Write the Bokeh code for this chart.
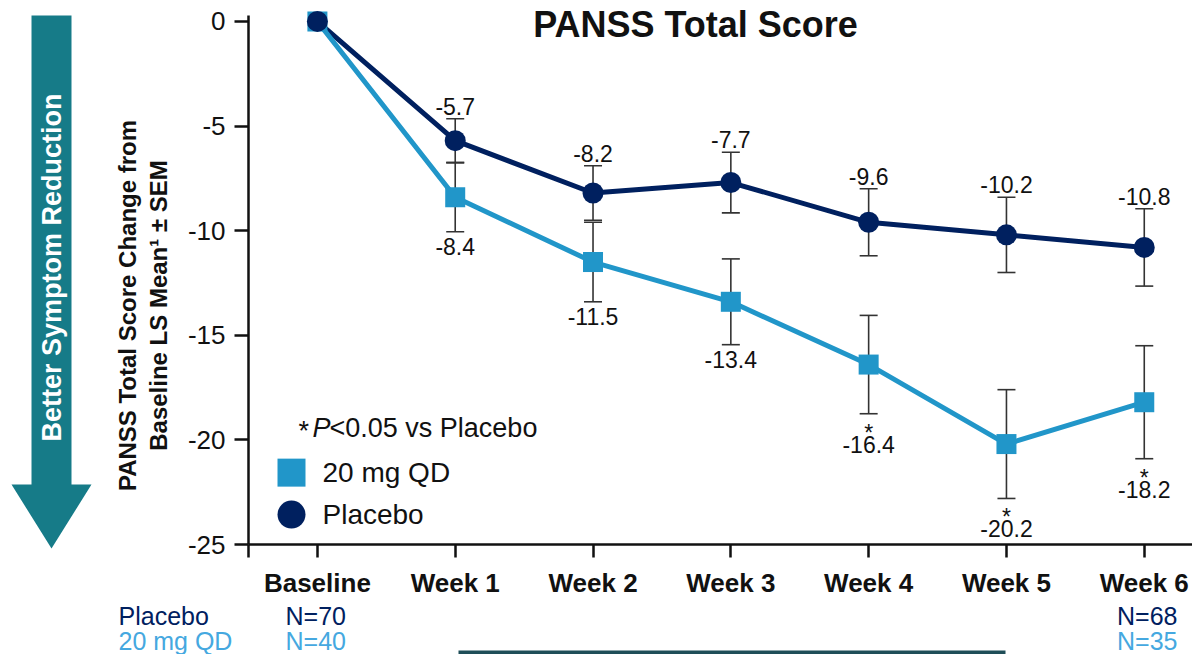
import math

from bokeh.core.properties import value
from bokeh.embed import file_html
from bokeh.layouts import column, row
from bokeh.models import (ColumnDataSource, CustomJSTickFormatter, FixedTicker, Range1d,
                          TeeHead, Whisker)
from bokeh.plotting import figure
from bokeh.resources import INLINE

# ---- data -------------------------------------------------------------
visits = ["Baseline", "Week 1", "Week 2", "Week 3", "Week 4", "Week 5", "Week 6"]
placebo_mean = [0.0, -5.7, -8.2, -7.7, -9.6, -10.2, -10.8]
placebo_sem = [0.0, 1.05, 1.3, 1.45, 1.6, 1.8, 1.85]
qd20_mean = [0.0, -8.4, -11.5, -13.4, -16.4, -20.2, -18.2]
qd20_sem = [0.0, 1.65, 1.9, 2.05, 2.35, 2.6, 2.7]
qd20_significant = [False, False, False, False, True, True, True]
placebo_n = ["N=70", "N=68"]
qd20_n = ["N=40", "N=35"]
y_ticks = [0, -5, -10, -15, -20, -25]

# ---- styling ----------------------------------------------------------
NAVY = "#00205F"
BLUE = "#2196C9"
BLUE_TEXT = "#45A8E0"
TEAL = "#167B88"
INK = "#111111"
FONT = "Liberation Sans"

W, H = 1192, 654
SIDE_W = 180          # strip with the arrow and the y-axis title
TOP_H = 600           # height of the upper row
FOOT_H = H - TOP_H    # strip with the sample sizes
LEFT, BOTTOM = 248, 55
X_START, X_END = -0.5, 6.35
Y_START, Y_END = -25.0, 1.0


def cx(px):
    """page pixel column -> x data value of the chart"""
    return X_START + (px - LEFT) * (X_END - X_START) / (W - LEFT)


def cy(py):
    """page pixel row -> y data value of the chart"""
    return Y_END - py * (Y_END - Y_START) / (TOP_H - BOTTOM)


def no_frame_alignment(f):
    # keep each strip's drawing area independent of its neighbours
    if "frame_align" in f.properties():
        f.frame_align = False


def blank(width, height):
    f = figure(width=width, height=height, x_range=Range1d(0, width), y_range=Range1d(0, height),
               output_backend="svg", toolbar_location=None, title=None,
               x_axis_type=None, y_axis_type=None, min_border=0,
               outline_line_color=None, background_fill_color="white",
               border_fill_color="white")
    f.xgrid.visible = False
    f.ygrid.visible = False
    no_frame_alignment(f)
    return f


# ======================= chart ==========================================
p = figure(width=W - SIDE_W, height=TOP_H,
           x_range=Range1d(X_START, X_END), y_range=Range1d(Y_START, Y_END),
           output_backend="svg", toolbar_location=None, title=None,
           min_border_left=LEFT - SIDE_W, min_border_right=0, min_border_top=0,
           min_border_bottom=BOTTOM,
           outline_line_color=None, background_fill_color="white", border_fill_color="white")
p.xgrid.visible = False
p.ygrid.visible = False
no_frame_alignment(p)

xa = p.xaxis[0]
xa.ticker = FixedTicker(ticks=[-0.5] + list(range(len(visits))))
xa.formatter = CustomJSTickFormatter(args=dict(names=visits),
                                     code="return tick >= 0 ? names[Math.round(tick)] : '';")
xa.axis_line_width = 2.5
xa.axis_line_color = INK
xa.major_tick_line_width = 2.5
xa.major_tick_line_color = INK
xa.major_tick_out = 13
xa.major_tick_in = 0
xa.minor_tick_line_color = None
xa.major_label_standoff = 10
xa.major_label_text_font = FONT
xa.major_label_text_font_style = "bold"
xa.major_label_text_font_size = "26px"
xa.major_label_text_color = INK

ya = p.yaxis[0]
ya.ticker = FixedTicker(ticks=y_ticks)
ya.formatter = CustomJSTickFormatter(code="return String(Math.round(tick));")
ya.bounds = (-25, 0.3)
ya.axis_line_width = 2.5
ya.axis_line_color = INK
ya.major_tick_line_width = 2.5
ya.major_tick_line_color = INK
ya.major_tick_out = 14
ya.major_tick_in = 0
ya.minor_tick_line_color = None
ya.major_label_standoff = 9
ya.major_label_text_font = FONT
ya.major_label_text_font_size = "26px"
ya.major_label_text_color = INK

x = list(range(len(visits)))

# error bars (SEM)
bars = ColumnDataSource(dict(
    x=x[1:],
    p_lo=[m - s for m, s in zip(placebo_mean[1:], placebo_sem[1:])],
    p_hi=[m + s for m, s in zip(placebo_mean[1:], placebo_sem[1:])],
    q_lo=[m - s for m, s in zip(qd20_mean[1:], qd20_sem[1:])],
    q_hi=[m + s for m, s in zip(qd20_mean[1:], qd20_sem[1:])],
))
for lo, hi in (("p_lo", "p_hi"), ("q_lo", "q_hi")):
    p.add_layout(Whisker(source=bars, base="x", lower=lo, upper=hi, dimension="height",
                         line_color="#333333", line_width=1.6,
                         lower_head=TeeHead(size=18, line_color="#333333", line_width=1.6),
                         upper_head=TeeHead(size=18, line_color="#333333", line_width=1.6)))

# series
p.line(x, placebo_mean, line_color=NAVY, line_width=5)
p.line(x, qd20_mean, line_color=BLUE, line_width=5)
p.scatter(x, qd20_mean, marker="square", size=20, fill_color=BLUE, line_color=None)
p.scatter(x, placebo_mean, marker="circle", size=21, fill_color=NAVY, line_color=None)

# value labels
p_top = [m + s for m, s in zip(placebo_mean, placebo_sem)]
p.text(x=x[1:], y=p_top[1:], text=[f"{v:.1f}" for v in placebo_mean[1:]],
       text_align="center", text_baseline="bottom", y_offset=-4,
       text_font=value(FONT), text_font_size="23px", text_color=INK)

q_bot = [m - s for m, s in zip(qd20_mean, qd20_sem)]
q_off = [22 if sig else 6 for sig in qd20_significant[1:]]
p.text(x=x[1:], y=q_bot[1:], text=[f"{v:.1f}" for v in qd20_mean[1:]], y_offset=q_off,
       text_align="center", text_baseline="top",
       text_font=value(FONT), text_font_size="23px", text_color=INK)
star_x = [xi for xi, sig in zip(x, qd20_significant) if sig]
star_y = [yi for yi, sig in zip(q_bot, qd20_significant) if sig]
p.text(x=star_x, y=star_y, text=["*"] * len(star_x), y_offset=6,
       text_align="center", text_baseline="top",
       text_font=value(FONT), text_font_size="23px", text_color=INK)


def chart_text(px, py, text, size, color=INK, style="normal", align="left"):
    p.text(x=[cx(px)], y=[cy(py)], text=[text], text_align=align, text_baseline="middle",
           text_font=value(FONT), text_font_size=size, text_font_style=style,
           text_color=color)


# legend
p.scatter([cx(291)], [cy(473)], marker="square", size=28, fill_color=BLUE, line_color=None)
p.scatter([cx(291)], [cy(515)], marker="circle", size=28, fill_color=NAVY, line_color=None)
chart_text(298, 431, "*", "27px")
chart_text(312, 428, "P", "27px", style="italic")
chart_text(329, 428, "<0.05 vs Placebo", "27px")
chart_text(322, 473, "20 mg QD", "28px")
chart_text(322, 515, "Placebo", "28px")

# title
chart_text(695, 24, "PANSS Total Score", "36px", style="bold", align="center")

# ======================= side strip =====================================
side = blank(SIDE_W, TOP_H)
arrow_px = [(31, 15), (71, 15), (71, 484), (91, 484), (51, 548), (11, 484), (31, 484)]
side.patch([a for a, _ in arrow_px], [TOP_H - b for _, b in arrow_px],
           fill_color=TEAL, line_color=None)
side.text(x=[51], y=[TOP_H - 267], text=["Better Symptom Reduction"], angle=math.pi / 2,
          text_align="center", text_baseline="middle", text_font=value(FONT),
          text_font_size="27px", text_font_style="bold", text_color="white")
side.text(x=[127, 158], y=[TOP_H - 305, TOP_H - 305],
          text=["PANSS Total Score Change from", "Baseline LS Mean\u00b9 \u00b1 SEM"],
          angle=math.pi / 2, text_align="center", text_baseline="middle",
          text_font=value(FONT), text_font_size="24px", text_font_style="bold",
          text_color=INK)

# ======================= foot strip =====================================
foot = blank(W, FOOT_H)


def foot_text(px, py, text, color, align="left"):
    foot.text(x=[px], y=[H - py], text=[text], text_align=align, text_baseline="middle",
              text_font=value(FONT), text_font_size="25px", text_color=color)


foot_text(118, 615, "Placebo", NAVY)
foot_text(118, 640, "20 mg QD", BLUE_TEXT)
foot_text(285, 615, placebo_n[0], NAVY)
foot_text(285, 640, qd20_n[0], BLUE_TEXT)
foot_text(1177, 615, placebo_n[1], NAVY, align="right")
foot_text(1177, 640, qd20_n[1], BLUE_TEXT, align="right")
# thin rule along the bottom edge
foot.quad(left=[458], right=[1005], bottom=[0], top=[4], fill_color="#1F4E58", line_color=None)

page = column(row(side, p, spacing=0), foot, spacing=0)
open("out.html", "w").write(file_html(page, INLINE))
